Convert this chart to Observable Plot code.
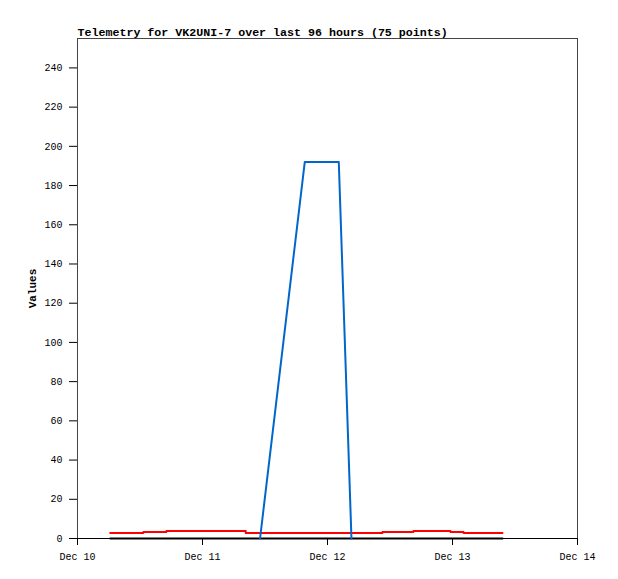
<!DOCTYPE html>
<html>
<head>
<meta charset="utf-8">
<script src="https://cdn.jsdelivr.net/npm/d3@7"></script>
<script src="https://cdn.jsdelivr.net/npm/@observablehq/plot@0.6"></script>
<style>
  body { margin: 0; background: #fff; }
</style>
</head>
<body>
<div id="chart"></div>
<script>
const titleText = "Telemetry for VK2UNI-7 over last 96 hours (75 points)";
const yLabel = "Values";
const xDomain = ["2023-12-10T00:00Z", "2023-12-14T00:00Z"];
const yTicks = [0, 20, 40, 60, 80, 100, 120, 140, 160, 180, 200, 220, 240];

const redTimes = ["2023-12-10T06:17Z", "2023-12-10T12:38Z", "2023-12-10T17:04Z", "2023-12-11T08:18Z", "2023-12-12T10:33Z", "2023-12-12T16:30Z", "2023-12-12T23:37Z", "2023-12-13T02:07Z", "2023-12-13T09:36Z"];
const redValues = [2.8, 3.3, 3.8, 2.8, 3.3, 3.8, 3.3, 2.8, 2.8];

const blackTimes = ["2023-12-10T06:17Z", "2023-12-13T09:36Z"];
const blackValues = [0, 0];

const blueTimes = ["2023-12-11T11:03Z", "2023-12-11T19:38Z", "2023-12-12T02:10Z", "2023-12-12T04:36Z"];
const blueValues = [0, 192, 192, 0];

const toRows = (times, values) => times.map((t, i) => ({t: new Date(t), v: values[i]}));
const red = toRows(redTimes, redValues);
const black = toRows(blackTimes, blackValues);
const blue = toRows(blueTimes, blueValues);

const chart = Plot.plot({
  width: 618,
  height: 579,
  marginLeft: 77,
  marginRight: 41,
  marginTop: 38,
  marginBottom: 41,
  style: {fontFamily: "Liberation Mono, DejaVu Sans Mono, monospace", fontSize: "10px", color: "#000", background: "#fff"},
  x: {type: "utc", domain: xDomain.map(d => new Date(d))},
  y: {domain: [0, 255]},
  marks: [
    Plot.frame({stroke: "#444"}),
    Plot.axisX({ticks: d3.utcDay.every(1), tickFormat: d3.utcFormat("%b %d"), tickSize: 7, tickPadding: 7, label: null}),
    Plot.axisY({ticks: yTicks, tickSize: 8, tickPadding: 7, label: null}),
    Plot.ruleY([0], {stroke: "#000"}),
    Plot.line(red, {x: "t", y: "v", stroke: "#ff0000", strokeWidth: 2, curve: "step-after"}),
    Plot.line(black, {x: "t", y: "v", stroke: "#000", strokeWidth: 2}),
    Plot.line(blue, {x: "t", y: "v", stroke: "#0066cc", strokeWidth: 2}),
    Plot.text([titleText], {frameAnchor: "top-left", dy: -3, lineAnchor: "bottom", textAnchor: "start", fontWeight: "bold", fontSize: 11.65}),
    Plot.text([yLabel], {frameAnchor: "left", dx: -45, rotate: -90, textAnchor: "middle", fontWeight: "bold", fontSize: 11})
  ]
});
document.getElementById("chart").append(chart);
</script>
</body>
</html>
